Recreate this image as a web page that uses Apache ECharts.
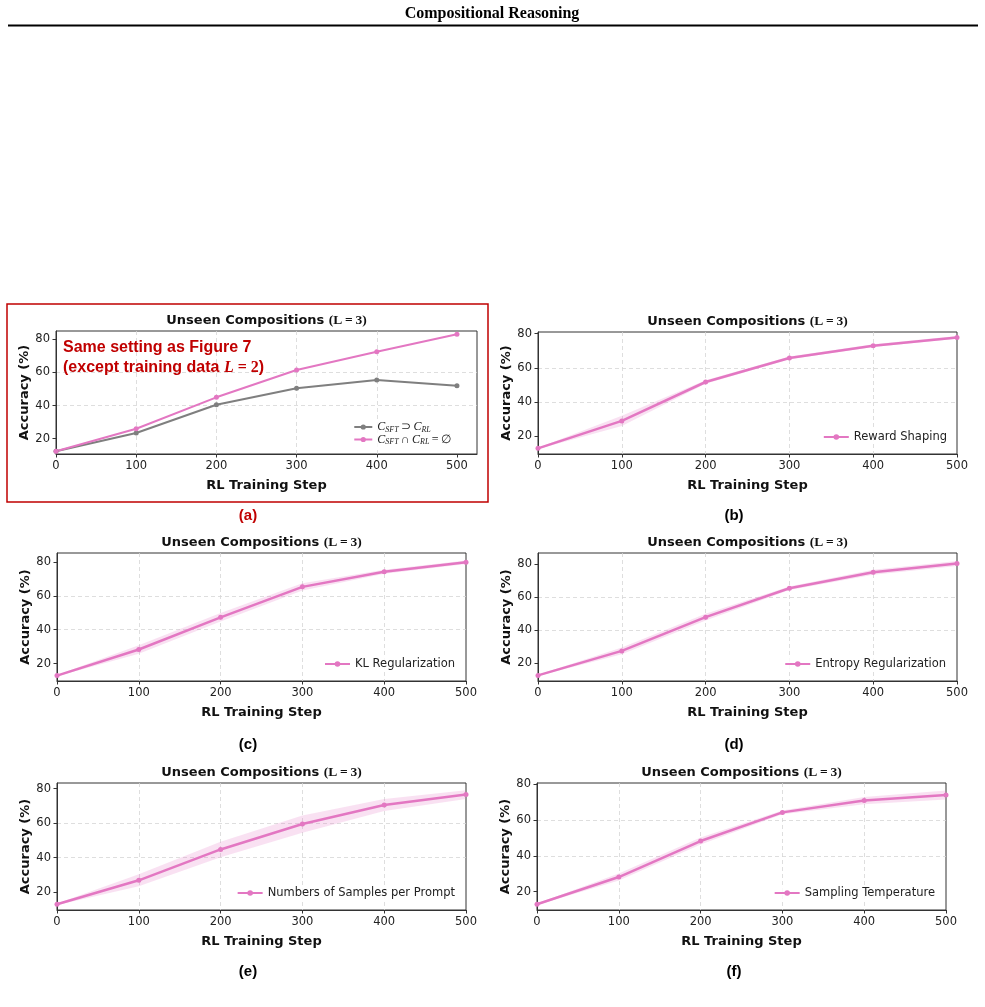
<!DOCTYPE html>
<html>
<head>
<meta charset="utf-8">
<script src="https://cdn.jsdelivr.net/npm/echarts@6/dist/echarts.min.js"></script>
<style>
html,body{margin:0;padding:0;background:#fff;}
#chart{width:985px;height:1007px;}
</style>
</head>
<body>
<div id="chart"></div>
<script>
// ---------------- data ----------------
const steps = [0, 100, 200, 300, 400, 500];
const xTicks = [0, 100, 200, 300, 400, 500];
const yTicks = [20, 40, 60, 80];

// (a)
const aOverlap  = [12.5, 23.5, 40.5, 50.5, 55.5, 52.0];
const aDisjoint = [12.5, 26.0, 45.0, 61.5, 72.5, 83.0];
// (b)
const rewardMean = [12.8, 28.9, 51.7, 65.8, 73.0, 77.8];
const rewardStd  = [0.4, 3.0, 1.0, 0.8, 0.8, 0.8];
// (c)
const klMean = [12.9, 28.3, 47.3, 65.3, 74.2, 79.8];
const klStd  = [0.4, 2.5, 2.5, 2.2, 1.2, 1.0];
// (d)
const entMean = [12.7, 27.5, 47.9, 65.4, 75.1, 80.4];
const entStd  = [0.4, 2.0, 2.0, 1.0, 1.5, 1.5];
// (e)
const sampMean = [12.9, 26.8, 44.7, 59.4, 70.5, 76.5];
const sampStd  = [0.4, 3.5, 4.5, 5.0, 3.5, 2.5];
// (f)
const tempMean = [13.0, 28.2, 48.3, 64.3, 70.9, 74.0];
const tempStd  = [0.4, 2.0, 2.0, 1.0, 2.0, 2.5];

const seriesNames = {
  overlap: 'C_SFT ⊃ C_RL',
  disjoint: 'C_SFT ∩ C_RL = ∅',
  reward: 'Reward Shaping',
  kl: 'KL Regularization',
  ent: 'Entropy Regularization',
  samp: 'Numbers of Samples per Prompt',
  temp: 'Sampling Temperature'
};
const subLabels = ['(a)', '(b)', '(c)', '(d)', '(e)', '(f)'];

// ---------------- style ----------------
const PINK = '#e377c2';
const GRAY = '#7f7f7f';
const RED = '#c00000';
const SANS = 'DejaVu Sans';

const panels = [
  {left: 56,  top: 331, width: 421, height: 123, xmax: 525, ymin: 10.8, ymax: 85.0},
  {left: 538, top: 332, width: 419, height: 122, xmax: 500, ymin: 9.5,  ymax: 81.0},
  {left: 57,  top: 553, width: 409, height: 128, xmax: 500, ymin: 9.7,  ymax: 85.3},
  {left: 538, top: 553, width: 419, height: 128, xmax: 500, ymin: 9.3,  ymax: 86.7},
  {left: 57,  top: 783, width: 409, height: 127, xmax: 500, ymin: 9.6,  ymax: 83.2},
  {left: 537, top: 783, width: 409, height: 127, xmax: 500, ymin: 9.8,  ymax: 80.7}
];
const subLabelPos = [[248, 516], [734, 516], [248, 745], [734, 745], [248, 972], [734, 972]];

const grids = [], xAxes = [], yAxes = [], titles = [], series = [], legends = [];

panels.forEach((p, i) => {
  grids.push({left: p.left, top: p.top, width: p.width, height: p.height,
    show: true, borderColor: '#333', borderWidth: 1, backgroundColor: 'transparent', containLabel: false});
  xAxes.push({
    type: 'value', gridIndex: i, min: 0, max: p.xmax,
    splitNumber: 5, minInterval: 100, maxInterval: 100,
    axisLine: {show: true, onZero: false, lineStyle: {color: '#333', width: 1}},
    axisTick: {show: true, length: 3.5, inside: false, lineStyle: {color: '#333', width: 1}, customValues: xTicks},
    axisLabel: {show: true, customValues: xTicks, margin: 6, fontSize: 11.5, color: '#222', fontFamily: SANS},
    splitLine: {show: true, showMinLine: false, showMaxLine: false,
      lineStyle: {type: [4, 3], color: '#d6d6d6', width: 0.8}},
    name: 'RL Training Step', nameLocation: 'middle', nameGap: 25,
    nameTextStyle: {fontWeight: 'bold', fontSize: 13, fontFamily: SANS, color: '#111'}
  });
  yAxes.push({
    type: 'value', gridIndex: i, min: p.ymin, max: p.ymax,
    splitNumber: 4, minInterval: 20, maxInterval: 20,
    axisLine: {show: true, onZero: false, lineStyle: {color: '#333', width: 1}},
    axisTick: {show: true, length: 3.5, inside: false, lineStyle: {color: '#333', width: 1}, customValues: yTicks},
    axisLabel: {show: true, customValues: yTicks, margin: 6, fontSize: 11.5, color: '#222', fontFamily: SANS},
    splitLine: {show: true, showMinLine: false, showMaxLine: false,
      lineStyle: {type: [4, 3], color: '#d6d6d6', width: 0.8}},
    name: 'Accuracy (%)', nameLocation: 'middle', nameGap: 25, nameRotate: 90,
    nameTextStyle: {fontWeight: 'bold', fontSize: 13, fontFamily: SANS, color: '#111'}
  });
  titles.push({
    text: '{t|Unseen Compositions }{m|(L\u2009=\u20093)}',
    left: p.left + p.width / 2, top: p.top - 17, textAlign: 'center', padding: 0,
    textStyle: {rich: {
      t: {fontFamily: SANS, fontWeight: 'bold', fontSize: 13, color: '#111'},
      m: {fontFamily: 'Liberation Serif', fontWeight: 'bold', fontSize: 13.5, color: '#111'}
    }}
  });
});

function lineSeries(name, idx, vals, color, width) {
  return {
    type: 'line', name: name, xAxisIndex: idx, yAxisIndex: idx,
    data: steps.map((s, k) => [s, vals[k]]),
    symbol: 'circle', symbolSize: 5, showSymbol: true,
    lineStyle: {color: color, width: width}, itemStyle: {color: color},
    emphasis: {disabled: true}, z: 3, animation: false, clip: false
  };
}
function bandSeries(idx, mean, std) {
  return {
    type: 'custom', xAxisIndex: idx, yAxisIndex: idx, silent: true, z: 2, animation: false,
    data: steps.map((s, k) => [s, mean[k] - std[k], mean[k] + std[k]]),
    encode: {x: 0, y: [1, 2]},
    renderItem: function (params, api) {
      if (params.dataIndex !== 0) return null;
      const up = [], lo = [];
      for (let k = 0; k < steps.length; k++) {
        up.push(api.coord([steps[k], mean[k] + std[k]]));
        lo.push(api.coord([steps[k], mean[k] - std[k]]));
      }
      return {type: 'polygon', shape: {points: up.concat(lo.reverse())},
        style: {fill: 'rgba(227,119,194,0.22)', stroke: null}};
    }
  };
}

// (a)
series.push(lineSeries(seriesNames.overlap, 0, aOverlap, GRAY, 2));
series.push(lineSeries(seriesNames.disjoint, 0, aDisjoint, PINK, 2));
// (b)-(f)
const bandSets = [
  [seriesNames.reward, rewardMean, rewardStd],
  [seriesNames.kl, klMean, klStd],
  [seriesNames.ent, entMean, entStd],
  [seriesNames.samp, sampMean, sampStd],
  [seriesNames.temp, tempMean, tempStd]
];
bandSets.forEach((b, j) => {
  const idx = j + 1;
  series.push(bandSeries(idx, b[1], b[2]));
  series.push(lineSeries(b[0], idx, b[1], PINK, 2.5));
});

// legends
const legendCommon = {
  orient: 'vertical', padding: [1, 2, 1, 2], backgroundColor: 'rgba(255,255,255,0.8)',
  itemWidth: 25, itemHeight: 7, itemGap: 2, selectedMode: false,
  textStyle: {fontFamily: SANS, fontSize: 11.5, color: '#222'}
};
legends.push(Object.assign({}, legendCommon, {
  data: [seriesNames.overlap, seriesNames.disjoint], right: 985 - 453, top: 420,
  itemWidth: 18, itemHeight: 6.5, itemGap: 0,
  formatter: function (name) {
    return name === seriesNames.overlap
      ? '{c|C}{s|SFT}{o|\u2009\u2283\u2009}{c|C}{s|RL}'
      : '{c|C}{s|SFT}{o|\u2009\u2229\u2009}{c|C}{s|RL}{o|\u2009=\u2009\u2205}';
  },
  textStyle: {rich: {
    c: {fontFamily: 'Liberation Serif', fontStyle: 'italic', fontSize: 12, color: '#222', lineHeight: 13},
    s: {fontFamily: 'Liberation Serif', fontStyle: 'italic', fontSize: 8, color: '#222', verticalAlign: 'bottom', lineHeight: 13, padding: [3, 0, 0, 0]},
    o: {fontFamily: 'Liberation Serif', fontSize: 12, color: '#222', lineHeight: 13}
  }}
}));
const legPos = [
  [seriesNames.reward, 985 - 949, 430],
  [seriesNames.kl, 985 - 457, 657],
  [seriesNames.ent, 985 - 948, 657],
  [seriesNames.samp, 985 - 457, 886],
  [seriesNames.temp, 985 - 937, 886]
];
legPos.forEach(l => legends.push(Object.assign({}, legendCommon, {data: [l[0]], right: l[1], top: l[2]})));

// graphics
const graphics = [
  {type: 'text', x: 492, y: 14, style: {text: 'Compositional Reasoning', font: 'bold 16px "Liberation Serif"',
    fill: '#000', textAlign: 'center', textVerticalAlign: 'middle', align: 'center', verticalAlign: 'middle'}},
  {type: 'line', shape: {x1: 8, y1: 25.5, x2: 978, y2: 25.5}, style: {stroke: '#000', lineWidth: 2}},
  {type: 'rect', shape: {x: 7, y: 304, width: 481, height: 198}, style: {fill: 'transparent', stroke: RED, lineWidth: 1.5}},
  {type: 'text', x: 63, y: 348, z: 10, style: {text: 'Same setting as Figure 7', font: 'bold 16px "Liberation Sans"',
    fill: RED, textVerticalAlign: 'middle', verticalAlign: 'middle'}},
  {type: 'text', x: 63, y: 368, z: 10, style: {
    text: '{r|(except training data }{i|L}{e| = 2}{r|)}',
    verticalAlign: 'middle', textVerticalAlign: 'middle',
    rich: {
      r: {font: 'bold 16px "Liberation Sans"', fill: RED, color: RED},
      i: {font: 'italic bold 16px "Liberation Serif"', fill: RED, color: RED},
      e: {font: 'bold 16px "Liberation Serif"', fill: RED, color: RED}
    }}}
];
subLabels.forEach((t, i) => {
  graphics.push({type: 'text', x: subLabelPos[i][0], y: subLabelPos[i][1], style: {
    text: t, font: 'bold 15px "Liberation Sans"', fill: i === 0 ? RED : '#000',
    textAlign: 'center', textVerticalAlign: 'middle', align: 'center', verticalAlign: 'middle'}});
});

const chart = echarts.init(document.getElementById('chart'), null, {renderer: 'canvas'});
chart.setOption({
  animation: false,
  backgroundColor: '#fff',
  title: titles,
  grid: grids,
  xAxis: xAxes,
  yAxis: yAxes,
  legend: legends,
  series: series,
  graphic: graphics
});
</script>
</body>
</html>
